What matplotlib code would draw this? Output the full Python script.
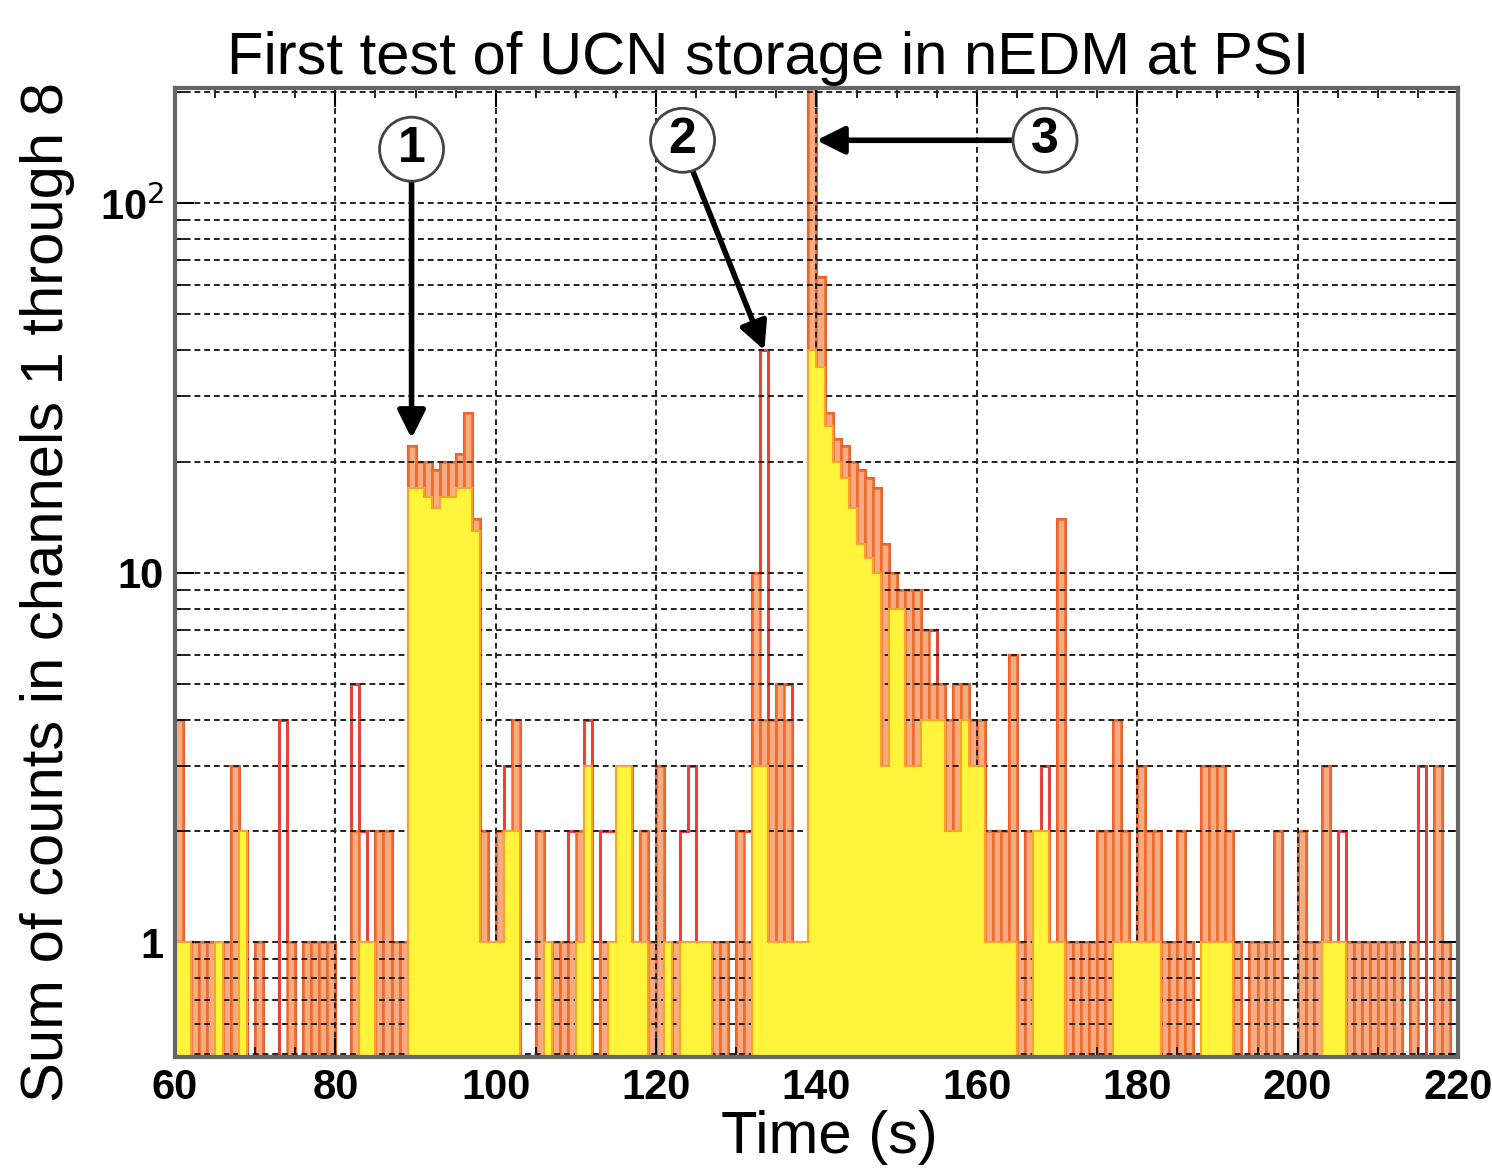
import numpy as np
import matplotlib
matplotlib.use("Agg")
import matplotlib.pyplot as plt
from matplotlib.ticker import FixedLocator, FixedFormatter, LogLocator, NullFormatter

plt.rcParams['font.family'] = ['Liberation Sans', 'DejaVu Sans']

# 1 s bins from 60 s to 220 s
bin_edges = np.arange(60, 221)

# summed counts per bin, outline (incl. red spikes)
counts_red = (
    [4, 0, 1, 1, 1, 1, 1, 3, 2, 0, 1, 0, 0, 4, 1, 0, 1, 1, 1, 1] +
    [0, 0, 5, 2, 1, 2, 2, 1, 1, 22, 20, 20, 19, 20, 20, 21, 27, 14, 2, 1] +
    [2, 3, 4, 0, 0, 2, 1, 1, 1, 2, 2, 4, 0, 2, 2, 3, 3, 1, 2, 1] +
    [3, 1, 1, 2, 3, 1, 1, 1, 1, 0, 2, 2, 10, 40, 4, 5, 5, 1, 1, 220] +
    [63, 27, 23, 22, 20, 19, 18, 17, 12, 10, 9, 9, 9, 7, 7, 5, 4, 5, 5, 4] +
    [4, 2, 2, 2, 6, 1, 2, 2, 3, 1, 14, 1, 1, 1, 1, 2, 2, 4, 2, 1] +
    [3, 2, 2, 1, 1, 2, 1, 0, 3, 3, 3, 2, 1, 0, 1, 1, 1, 2, 0, 0] +
    [2, 1, 1, 3, 1, 2, 1, 1, 1, 1, 1, 1, 1, 0, 1, 3, 0, 3, 1, 0]
)

# orange histogram
counts_orange = (
    [4, 0, 1, 1, 1, 1, 1, 3, 2, 0, 1, 0, 0, 0, 1, 0, 1, 1, 1, 1] +
    [0, 0, 2, 1, 1, 2, 2, 1, 1, 22, 20, 20, 19, 20, 20, 21, 27, 14, 2, 1] +
    [2, 2, 4, 0, 0, 2, 1, 1, 1, 1, 2, 3, 0, 1, 1, 3, 3, 1, 2, 1] +
    [3, 1, 1, 1, 1, 1, 1, 1, 1, 0, 2, 1, 10, 4, 4, 5, 4, 1, 1, 220] +
    [63, 27, 23, 22, 20, 19, 18, 17, 12, 10, 9, 9, 9, 7, 5, 5, 4, 5, 5, 4] +
    [4, 2, 2, 2, 6, 1, 2, 2, 2, 1, 14, 1, 1, 1, 1, 2, 2, 4, 2, 1] +
    [3, 2, 2, 1, 1, 2, 1, 0, 3, 3, 3, 2, 1, 0, 1, 1, 1, 2, 0, 0] +
    [2, 1, 1, 3, 1, 1, 1, 1, 1, 1, 1, 1, 1, 0, 1, 0, 0, 3, 1, 0]
)

# yellow histogram
counts_yellow = (
    [1, 1, 0, 0, 0, 1, 0, 0, 2, 0, 0, 0, 0, 0, 0, 0, 0, 0, 0, 0] +
    [0, 0, 0, 1, 1, 0, 0, 0, 0, 17, 17, 16, 15, 16, 16, 17, 17, 13, 1, 1] +
    [1, 2, 2, 0, 0, 0, 1, 0, 0, 0, 1, 3, 0, 0, 1, 3, 3, 1, 1, 0] +
    [0, 1, 0, 1, 1, 1, 1, 0, 0, 0, 0, 0, 3, 3, 1, 1, 1, 1, 1, 40] +
    [36, 25, 20, 18, 15, 12, 11, 10, 3, 8, 8, 3, 3, 4, 4, 4, 2, 2, 4, 3] +
    [3, 1, 1, 1, 1, 0, 0, 2, 2, 1, 1, 0, 0, 0, 0, 0, 0, 1, 1, 1] +
    [1, 1, 1, 0, 0, 0, 0, 0, 1, 1, 1, 1, 0, 0, 0, 0, 0, 0, 0, 0] +
    [0, 0, 0, 1, 1, 1, 0, 0, 0, 0, 0, 0, 0, 0, 0, 0, 0, 0, 0, 0]
)

x_ticks = [60, 80, 100, 120, 140, 160, 180, 200, 220]
y_ticks = [1, 10, 100]
y_ticklabels = ['1', '10', '10$^2$']

FLOOR = 0.3  # empty bins sit below the visible range on the log axis


def on_log(v):
    v = np.asarray(v, dtype=float)
    return np.where(v > 0, v, FLOOR)


fig = plt.figure(figsize=(14.92, 11.7), dpi=100)
ax = fig.add_axes([0.1173, 0.0966, 0.8599, 0.8282])
ax.set_yscale('log')

left = bin_edges[:-1]
ax.stairs(on_log(counts_red), bin_edges, baseline=FLOOR, fill=False,
          color='#e8433a', lw=2.2, zorder=0.9)
# each orange bin outlined on its own -> striped look
ax.bar(left, on_log(counts_orange) - FLOOR, width=1.0, bottom=FLOOR, align='edge',
       color='#f6ab82', edgecolor='#ee6a2c', lw=1.8, zorder=1)
ax.stairs(on_log(counts_yellow), bin_edges, baseline=FLOOR, fill=True,
          facecolor='#fff33c', edgecolor='#f6a52a', lw=1.5, zorder=2)

ax.set_xlim(60, 220)
ax.set_ylim(0.49, 205)

# dashed grid sits between the orange and the yellow layers
ax.set_axisbelow('line')
ax.xaxis.set_major_locator(FixedLocator(x_ticks))
ax.xaxis.set_minor_locator(FixedLocator(np.arange(60, 221, 5)))
ax.yaxis.set_major_locator(FixedLocator(y_ticks))
ax.yaxis.set_major_formatter(FixedFormatter(y_ticklabels))
ax.yaxis.set_minor_locator(LogLocator(base=10, subs=np.arange(2, 10)))
ax.yaxis.set_minor_formatter(NullFormatter())
ax.grid(True, which='major', axis='both', color='#222222', linestyle=(0, (3, 2)), lw=1.4)
ax.grid(True, which='minor', axis='y', color='#222222', linestyle=(0, (3, 2)), lw=1.4)

ax.tick_params(which='both', direction='in', top=True, right=True)
ax.tick_params(which='major', length=14, width=1.5, labelsize=30, pad=8)
ax.tick_params(which='minor', length=7, width=1.2)
for lab in ax.get_xticklabels() + ax.get_yticklabels():
    lab.set_fontweight('bold')
for sp in ax.spines.values():
    sp.set_color('#666666')
    sp.set_linewidth(3)

ax.set_title('First test of UCN storage in nEDM at PSI', fontsize=43, pad=10, x=0.462)
ax.set_xlabel('Time (s)', fontsize=43, labelpad=0)
ax.xaxis.set_label_coords(0.51, -0.055)
ax.set_ylabel('Sum of counts in channels 1 through 8', fontsize=43)
ax.yaxis.set_label_coords(-0.078, 0.48)

# numbered markers with arrows to the three features
arrow = dict(arrowstyle='-|>', color='black', lw=4, mutation_scale=42, shrinkA=0, shrinkB=0)
circ = dict(boxstyle='circle,pad=0.18', fc='white', ec='#444444', lw=2)
ax.annotate('', xy=(89.5, counts_red[29] * 1.05), xytext=(89.5, 128), arrowprops=arrow, zorder=5)
ax.text(89.5, 140, '1', fontsize=36, fontweight='bold', ha='center', va='center', bbox=circ, zorder=6)
ax.annotate('', xy=(133.5, counts_red[73]), xytext=(124.2, 128), arrowprops=arrow, zorder=5)
ax.text(123.3, 148, '2', fontsize=36, fontweight='bold', ha='center', va='center', bbox=circ, zorder=6)
ax.annotate('', xy=(140.0, 148), xytext=(166.0, 148), arrowprops=arrow, zorder=5)
ax.text(168.5, 148, '3', fontsize=36, fontweight='bold', ha='center', va='center', bbox=circ, zorder=6)

fig.savefig('out.png', dpi=100)
